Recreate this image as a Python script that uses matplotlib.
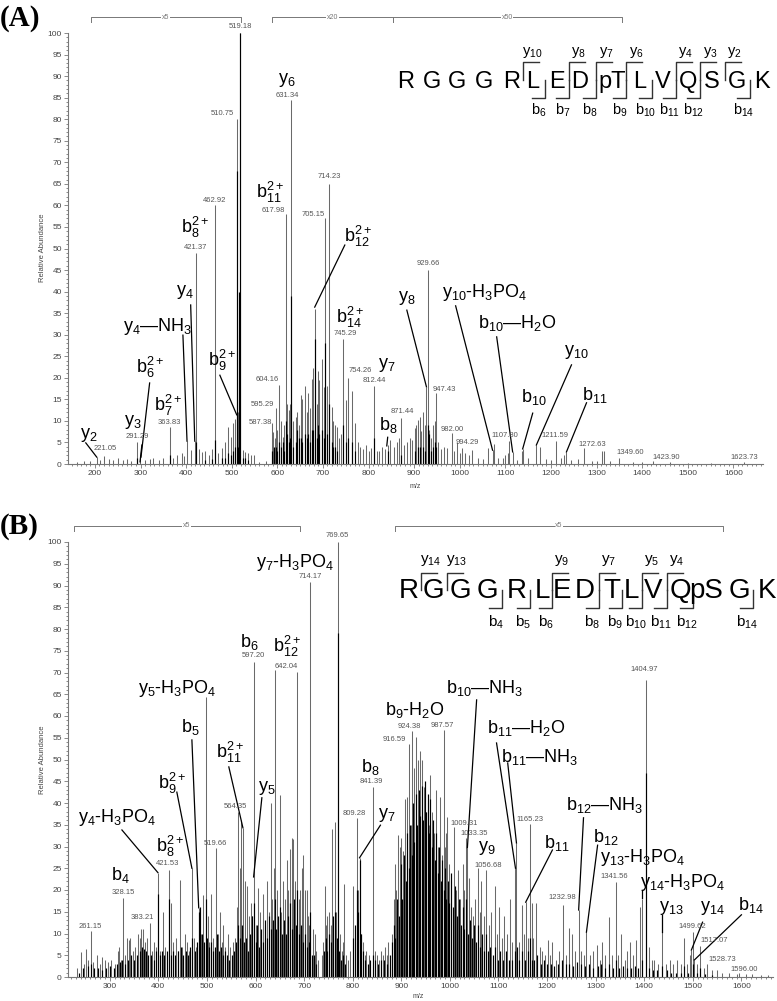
import numpy as np
import matplotlib.pyplot as plt
from matplotlib.ticker import MultipleLocator

plt.rcParams['font.family'] = ['Liberation Sans', 'DejaVu Sans']
plt.rcParams['mathtext.fontset'] = 'custom'
plt.rcParams['mathtext.rm'] = 'Liberation Sans'
plt.rcParams['mathtext.it'] = 'Liberation Sans:italic'
plt.rcParams['mathtext.default'] = 'regular'

# ---------- data: panel A (pT peptide) ----------
# (m/z, relative abundance), magnified trace (grey)
a_peaks = [
    (160, 0.5), (175, 0.6), (190, 0.8), (204, 1.6), (212, 0.9), (221, 1.9), (230, 1.2), (240, 1.0),
    (250, 1.3), (262, 0.9), (270, 1.1), (280, 0.8), (292, 5.1), (299, 2.0), (310, 1.0), (320, 1.2),
    (327, 1.5), (340, 1.0), (350, 1.3), (364, 8.6), (372, 1.5), (380, 2.0), (390, 2.5), (395, 1.8),
    (402, 5.3), (410, 3.2), (419, 5.3), (421, 49), (428, 3.5), (434, 2.8), (442, 3.0), (450, 2.2),
    (456, 3.5), (463, 60), (470, 2.5), (478, 3.8), (485, 5.0), (491, 8.6), (498, 6.3), (502, 9.5),
    (507, 10.5), (511, 80), (514, 12), (516, 30), (519, 100), (524, 3.3), (530, 2.8), (536, 2.5),
    (542, 2.0), (548, 2.0), (560, 0.5), (575, 0.8), (588, 9.5), (590, 7.5), (594, 6), (597, 13),
    (600, 8), (604, 18.3), (608, 10), (612, 6.3), (615, 9), (618, 58), (622, 14), (626, 12.5),
    (628, 14), (631, 84.5), (635, 10), (640, 11), (643, 12), (647, 9), (651, 16), (655, 15),
    (660, 18), (664, 12), (667, 16.5), (671, 13), (675, 19.7), (678, 22.3), (682, 36), (686, 14),
    (689, 21.6), (692, 19.5), (697, 24.3), (702, 17.9), (705, 57), (709, 18), (714, 65), (719, 13.2),
    (722, 10), (726, 9), (730, 8.6), (735, 6), (740, 7), (745, 29), (750, 14.8), (756, 20),
    (763, 17), (770, 9.5), (776, 5), (781, 4), (788, 3.5), (795, 4.5), (800, 3), (806, 3.8),
    (812, 18), (818, 3), (824, 3), (830, 4), (836, 3.5), (842, 4.5), (848, 5.5), (855, 4),
    (862, 5), (866, 6), (871, 10.7), (877, 4.5), (884, 5), (890, 6), (896, 5.5), (901, 8.4),
    (905, 9), (908, 10.2), (912, 11), (914, 7.7), (919, 12), (924, 9), (927, 17.9), (929.7, 45),
    (932, 7.9), (937, 6), (941, 9), (945, 10), (947, 16.5), (952, 5), (958, 3.5), (965, 4),
    (971, 3.8), (982, 7.2), (988, 3), (994, 5.1), (1000, 2.5), (1006, 3.8), (1012, 2.5), (1020, 2),
    (1026, 3.2), (1040, 1.5), (1050, 1.2), (1061, 3.6), (1072, 3.2), (1076, 4.7), (1085, 1.5),
    (1095, 1.5), (1100, 2), (1105, 2.5), (1108, 5.3), (1116, 2.8), (1125, 1), (1136, 3.0),
    (1138, 3.5), (1150, 1.5), (1168, 4.4), (1175, 4), (1190, 1.2), (1200, 1), (1212, 5.3),
    (1223, 1.5), (1228, 2), (1234, 2.8), (1245, 1), (1260, 1.2), (1273, 3.7), (1290, 0.8),
    (1300, 0.7), (1313, 3), (1317, 3), (1330, 0.6), (1350, 1.4), (1380, 0.5), (1400, 0.4),
    (1424, 0.8), (1460, 0.4), (1500, 0.3), (1550, 0.3), (1624, 0.5),
]
# unmagnified trace (black)
a_core = [
    (292, 1.5), (364, 2), (421, 5), (442, 1), (456, 1.2), (463, 5.5), (478, 1.5), (485, 1.5),
    (491, 2.5), (498, 2), (502, 3), (507, 4), (511, 68), (514, 4), (516, 40), (519, 100),
    (524, 1.3), (530, 1.5), (536, 1), (588, 3), (592, 4), (597, 4), (600, 3), (604, 5),
    (608, 4), (612, 5), (615, 3), (618, 10), (622, 7), (626, 5), (628, 6), (631, 39),
    (635, 4), (640, 5), (643, 8), (647, 6), (651, 6), (655, 5), (660, 7), (664, 6),
    (667, 7), (671, 5), (675, 8), (678, 8), (682, 29), (686, 6), (689, 9), (692, 7),
    (697, 8), (702, 6), (705, 28), (709, 7), (714, 14), (719, 5), (722, 4), (726, 4),
    (730, 3), (745, 9), (750, 5), (756, 6), (763, 5), (770, 3), (812, 6), (842, 3),
    (871, 2), (901, 3), (908, 4), (912, 4), (919, 4), (924, 3), (929.7, 9), (932, 7),
    (937, 3), (941, 4), (945, 5), (947, 4),
]
a_mz_labels = [
    ('519.18', 520, 101.4), ('510.75', 480, 81.4), ('631.34', 621, 85.6), ('714.23', 715, 66.6),
    ('705.15', 678, 58), ('617.98', 592, 58.9), ('462.92', 463, 61.2), ('421.37', 421, 50.3),
    ('929.66', 930, 46.6), ('947.43', 967, 17.4), ('745.29', 748, 30.2), ('754.26', 781, 21.6),
    ('812.44', 813, 19.3), ('871.44', 873, 12.2), ('982.00', 984, 7.9), ('994.29', 1017, 5.1),
    ('1107.80', 1100, 6.7), ('1211.59', 1208, 6.7), ('1272.63', 1291, 4.6), ('1349.60', 1374, 2.6),
    ('1423.90', 1453, 1.4), ('1623.73', 1624, 1.4), ('604.16', 579, 19.7), ('595.29', 568, 13.9),
    ('587.38', 562, 9.7), ('363.83', 364, 9.7), ('291.29', 292, 6.3), ('221.05', 222, 3.5),
]
# ion label, text position, leader line (from, to peak)
a_ions = [
    ('y$_2$', 187, 6.7, (180, 4.9, 204, 1.6)),
    ('y$_3$', 283, 9.7, (303, 4.4, 299, 0.5)),
    ('b$_6^{2+}$', 320, 22.3, (320, 18.8, 301, 1.6)),
    ('b$_7^{2+}$', 360, 13.7, None),
    ('y$_4$—NH$_3$', 338, 31.8, (393, 29.9, 402, 5.3)),
    ('y$_4$', 397, 39.9, (410, 36.9, 419, 5.3)),
    ('b$_8^{2+}$', 419, 54.8, None),
    ('b$_9^{2+}$', 478, 24.1, (474, 20.6, 511, 11.4)),
    ('y$_6$', 621, 89.1, None),
    ('b$_{11}^{2+}$', 583, 63.1, None),
    ('b$_{12}^{2+}$', 776, 52.7, (748, 50.8, 682, 36.4)),
    ('b$_{14}^{2+}$', 759, 34.1, None),
    ('y$_7$', 840, 23, None),
    ('b$_8$', 843, 9.0, (842, 6.2, 840, 4.2)),
    ('y$_8$', 884, 38.5, (884, 35.7, 927, 17.9)),
    ('y$_{10}$-H$_3$PO$_4$', 1054, 39.9, (991, 36.7, 1072, 3.2)),
    ('b$_{10}$—H$_2$O', 1127, 32.7, (1081, 29.5, 1116, 2.8)),
    ('y$_{10}$', 1256, 26, (1245, 23, 1168, 4.4)),
    ('b$_{10}$', 1162, 15.5, (1160, 11.8, 1138, 3.5)),
    ('b$_{11}$', 1296, 16, (1278, 14.2, 1234, 2.8)),
]
a_zoom = [(191, 520, 'x5'), (588, 853, 'x20'), (853, 1355, 'x50')]
a_residues = ['R', 'G', 'G', 'G', 'R', 'L', 'E', 'D', 'pT', 'L', 'V', 'Q', 'S', 'G', 'K']
a_y_ions = [10, 8, 7, 6, 4, 3, 2]
a_b_ions = [6, 7, 8, 9, 10, 11, 12, 14]

# ---------- data: panel B (pS peptide) ----------
b_peaks = [
    (232, 2), (240, 5.8), (246, 3), (251, 6.5), (256, 4), (261, 10.6), (266, 3.5), (273, 5),
    (280, 3), (285, 4.5), (290, 4), (296, 3.5), (302, 4), (310, 3), (316, 6), (319, 7),
    (323, 4), (327, 18.2), (331, 5), (336, 9), (340, 8.5), (342, 9), (348, 6), (352, 7),
    (358, 10), (362, 9), (365, 11), (368, 11), (372, 8), (376, 9), (382, 12.5), (387, 6),
    (392, 8), (395, 7), (399, 24), (404, 6), (409, 15), (414, 7), (421.5, 24.6), (427, 17),
    (431, 8), (436, 9), (440, 6), (444, 22.4), (449, 7), (454, 10), (458, 8), (463, 6),
    (469, 25), (474, 9), (478, 7), (483, 15.9), (487, 10), (491, 18.9), (497, 64.4), (502, 14),
    (505, 8), (509, 19), (513, 9), (518, 29.7), (522, 10), (526, 15), (530, 8), (534, 12),
    (538, 7), (543, 10), (548, 7), (553, 8), (558, 9), (561, 16), (563, 38), (567, 25),
    (571, 36), (574, 34.3), (578, 22), (582, 21), (586, 14), (590, 17), (593, 14), (596, 72.4),
    (600, 12), (605, 20.5), (610, 15), (615, 19), (619, 12), (623, 22), (627, 15), (631, 40),
    (634, 18), (637, 25), (641, 70.6), (645, 20), (650, 41.8), (653, 15), (656, 22), (660, 18),
    (664, 27), (667, 20), (670, 29.5), (674, 32), (677, 31.7), (681, 22), (685, 70.1), (689, 18),
    (692, 20), (695, 25), (697, 28), (701, 20), (705, 20), (707, 14), (710, 12), (713, 90.8),
    (718, 11), (722, 10), (724, 6), (728, 4), (736, 5), (739, 8), (742, 21), (745, 12),
    (748, 14), (752, 15), (755, 12), (758, 34), (763, 35.6), (766, 15), (769.65, 100), (773, 10),
    (777, 6), (780, 8), (783, 21.4), (787, 5), (790, 4), (795, 6), (800, 21), (804, 8),
    (808, 36.6), (811, 20), (814, 27.4), (818, 10), (821, 8), (825, 5), (828, 6), (834, 5),
    (841, 43.7), (845, 6), (849, 5), (854, 4), (858, 6), (862, 5), (866, 7), (870, 5),
    (873, 8), (876, 4), (880, 10), (884, 18), (886, 26), (889, 20), (893, 32.6), (897, 30),
    (900, 32), (903, 29), (907, 41), (911, 41.4), (915, 53.6), (919, 35), (923, 56.6), (927, 48),
    (931, 55.2), (934, 50), (938, 52), (942, 50), (946, 43.7), (950, 38), (954, 40), (957, 35),
    (960, 46.4), (964, 38), (968, 33), (972, 43), (976, 30), (979, 41.4), (983, 28), (987, 56.8),
    (990, 30), (993, 33), (995, 36.8), (999, 26), (1003, 22), (1008, 34.5), (1012, 20), (1016, 24.6),
    (1020, 18), (1026, 26), (1030, 20), (1034, 32), (1036, 29.7), (1040, 22.8), (1044, 16), (1048, 14),
    (1052, 18), (1057, 25), (1061, 15), (1065, 22), (1070, 14), (1075, 24.6), (1080, 12), (1085, 15),
    (1092, 20.9), (1096, 10), (1102, 16), (1107, 9), (1112, 14), (1118, 10), (1123, 18), (1128, 8),
    (1135, 25), (1137, 30.8), (1142, 8), (1149, 16.6), (1153, 10), (1156, 17.2), (1160, 9), (1164, 35.2),
    (1168, 17), (1172, 9), (1178, 17), (1185, 7), (1190, 6), (1196, 5), (1201, 8.6), (1206, 5),
    (1211, 8), (1218, 4), (1224, 6), (1232, 16.6), (1238, 5), (1246, 11.2), (1252, 10), (1258, 6),
    (1265, 15.4), (1270, 6), (1276, 5), (1281, 10.3), (1288, 5), (1295, 6), (1302, 7.3), (1308, 4),
    (1314, 8), (1320, 5), (1328, 13.8), (1334, 5), (1341, 21.8), (1347, 5), (1353, 10), (1360, 4),
    (1365, 6), (1370, 8), (1377, 5), (1384, 8.5), (1392, 16), (1396, 18), (1403, 68.3), (1409, 7),
    (1415, 4), (1421, 4), (1428, 3), (1437, 10.3), (1444, 3), (1452, 4), (1460, 3), (1468, 4),
    (1475, 3), (1481, 9), (1488, 3), (1494, 5), (1497, 6.2), (1499.6, 10.3), (1503, 3.9), (1508, 3),
    (1515, 7.1), (1522, 2), (1530, 3), (1540, 1.5), (1549, 1.5), (1560, 1), (1575, 1), (1590, 0.8),
    (1596, 1), (1610, 0.6), (1622, 0.8), (1640, 0.5), (1655, 0.5),
]
b_core = [
    (236, 1), (245, 2), (255, 2.5), (262, 3), (268, 2), (276, 2), (284, 1.5), (292, 2),
    (300, 2.5), (308, 2), (314, 3), (320, 3.5), (326, 4), (332, 3), (338, 4), (344, 5),
    (350, 4), (356, 5), (362, 6), (366, 7), (370, 6.5), (374, 6), (378, 5), (385, 5),
    (390, 4), (396, 6), (399, 19), (403, 5), (408, 6), (412, 5), (418, 6), (421.5, 18),
    (425, 5), (430, 6), (435, 5), (440, 6), (446, 7), (451, 5), (456, 6), (461, 5),
    (466, 7), (470, 9), (475, 6), (480, 8), (483, 15), (486, 16), (490, 10), (494, 8),
    (497, 18), (500, 9), (504, 7), (508, 8), (512, 6), (516, 7), (520, 10), (524, 6),
    (528, 7), (532, 5), (537, 6), (541, 5), (546, 4), (551, 5), (556, 6), (560, 8),
    (564, 12), (568, 9), (572, 12), (576, 8), (580, 9), (584, 6), (588, 10), (592, 14),
    (596, 17), (600, 8), (604, 12), (608, 7), (612, 11), (616, 8), (620, 13), (624, 9),
    (628, 14), (632, 11), (636, 13), (640, 18), (643, 11), (647, 14), (651, 16), (655, 10),
    (659, 13), (663, 10), (667, 14), (671, 17), (675, 11), (679, 18), (683, 12), (686, 20),
    (690, 10), (694, 12), (698, 8), (702, 10), (706, 7), (710, 8), (713, 15), (716, 5),
    (720, 5), (724, 3), (740, 6), (744, 9), (748, 6), (752, 10), (756, 8), (760, 14),
    (764, 15), (767, 9), (769.65, 79), (772, 6), (776, 4), (781, 5), (785, 3), (800, 9),
    (804, 12), (808, 20), (811, 15), (814, 27), (817, 10), (821, 6), (826, 4), (831, 3),
    (836, 4), (841, 5), (846, 4), (852, 3), (858, 4), (864, 4), (870, 3), (876, 5),
    (880, 8), (884, 12), (888, 9), (892, 18), (896, 14), (899, 26), (902, 18), (905, 28),
    (909, 22), (912, 33), (915, 25), (918, 35), (921, 28), (924, 40), (927, 31), (930, 42),
    (933, 35), (936, 43), (939, 37), (942, 44), (945, 36), (948, 45), (951, 38), (954, 42),
    (957, 33), (960, 41), (963, 30), (966, 36), (969, 27), (972, 33), (975, 24), (978, 30),
    (981, 22), (984, 27), (987, 20), (990, 25), (993, 18), (996, 22), (999, 17), (1002, 24),
    (1006, 16), (1010, 21), (1014, 14), (1018, 18), (1022, 12), (1026, 16), (1030, 11), (1034, 18),
    (1038, 10), (1042, 13), (1046, 9), (1050, 12), (1054, 8), (1058, 12), (1062, 7), (1066, 10),
    (1070, 6), (1074, 10), (1078, 6), (1083, 7), (1088, 5), (1093, 7), (1098, 4), (1104, 6),
    (1110, 4), (1116, 6), (1122, 4), (1128, 4), (1135, 6), (1138, 7), (1143, 4), (1149, 6),
    (1155, 4), (1160, 6), (1164, 9), (1168, 4), (1174, 4), (1180, 5), (1187, 3), (1194, 4),
    (1200, 3), (1208, 3), (1215, 2.5), (1222, 3), (1230, 4), (1238, 3), (1246, 3), (1254, 2.5),
    (1262, 3.5), (1270, 3), (1278, 2.5), (1286, 3), (1295, 2), (1304, 2.5), (1312, 3), (1320, 2),
    (1328, 3), (1336, 2), (1341, 4), (1348, 2), (1356, 2.5), (1364, 2), (1372, 2), (1380, 2.5),
    (1388, 2), (1396, 4), (1403, 47), (1410, 2), (1418, 1.5), (1426, 1.5), (1437, 2.5), (1446, 1.5),
    (1455, 1), (1465, 1), (1475, 1), (1481, 2.5), (1490, 1), (1499.6, 3), (1508, 1), (1515, 2),
    (1525, 0.8), (1540, 0.5),
]
b_mz_labels = [
    ('769.65', 769, 101.6), ('714.17', 713, 92), ('597.20', 596, 73.8), ('642.04', 664, 71.4),
    ('261.15', 259, 11.7), ('328.15', 327, 19.5), ('383.21', 366, 13.6), ('421.53', 419, 26),
    ('519.66', 518, 30.8), ('564.35', 559, 39.1), ('809.28', 804, 37.7), ('841.39', 839, 45),
    ('916.59', 886, 54.7), ('924.38', 917, 57.7), ('987.57', 985, 57.9), ('1009.31', 1030, 35.4),
    ('1033.35', 1051, 33.0), ('1056.68', 1078, 25.7), ('1165.23', 1164, 36.3), ('1232.98', 1232, 18.2),
    ('1341.56', 1339, 23), ('1404.97', 1400, 70.6), ('1499.62', 1499, 11.5), ('1517.07', 1544, 8.3),
    ('1528.73', 1561, 4.1), ('1596.00', 1606, 1.8),
]
b_ions = [
    ('y$_7$-H$_3$PO$_4$', 681, 95.4, None),
    ('b$_6$', 588, 77, None),
    ('b$_{12}^{2+}$', 664, 75.9, None),
    ('y$_5$-H$_3$PO$_4$', 438, 66.4, None),
    ('b$_5$', 465, 57.5, (469, 54.5, 483, 15.9)),
    ('b$_{11}^{2+}$', 547, 51.7, (545, 48.3, 574, 34.3)),
    ('b$_9^{2+}$', 428, 44.6, (438, 42.5, 469, 25)),
    ('y$_5$', 623, 43.5, (613, 41.2, 596, 23)),
    ('y$_4$-H$_3$PO$_4$', 316, 36.6, (325, 33.8, 399, 24)),
    ('b$_8^{2+}$', 423, 29.9, None),
    ('b$_4$', 321, 23.4, None),
    ('y$_7$', 870, 37.2, (857, 34.9, 814, 27.4)),
    ('b$_8$', 837, 48.3, None),
    ('b$_9$-H$_2$O', 927, 61.4, None),
    ('b$_{10}$—NH$_3$', 1071, 66.4, (1055, 63.7, 1036, 29.7)),
    ('b$_{11}$—H$_2$O', 1158, 57.2, (1096, 53.8, 1135, 25)),
    ('b$_{11}$—NH$_3$', 1185, 50.6, (1119, 49.2, 1137, 30.8)),
    ('y$_9$', 1077, 29.6, None),
    ('b$_{11}$', 1219, 30.8, (1211, 29.2, 1156, 17.2)),
    ('b$_{12}$—NH$_3$', 1318, 39.5, (1275, 36.6, 1265, 15.4)),
    ('b$_{12}$', 1320, 32.2, (1304, 30.3, 1281, 10.3)),
    ('y$_{13}$-H$_3$PO$_4$', 1396, 27.4, None),
    ('y$_{14}$-H$_3$PO$_4$', 1479, 21.8, (1396, 20, 1396, 18.2)),
    ('y$_{13}$', 1456, 15.9, (1437, 14.3, 1437, 10.3)),
    ('y$_{14}$', 1540, 15.9, (1520, 12.6, 1497, 6.2)),
    ('b$_{14}$', 1619, 16.6, (1600, 14.3, 1503, 3.9)),
]
b_zoom = [(226, 691, 'x5'), (886, 1563, 'x5')]
b_residues = ['R', 'G', 'G', 'G', 'R', 'L', 'E', 'D', 'T', 'L', 'V', 'Q', 'pS', 'G', 'K']
b_y_ions = [14, 13, 9, 7, 5, 4]
b_b_ions = [4, 5, 6, 8, 9, 10, 11, 12, 14]

W, H = 777, 1001
GREY = '#6a6a6a'
TXT = '#555555'


def fx(px):
    return px / W


def fy(py):
    return 1 - py / H


def draw_panel(ax, peaks, core, mz_labels, ions, zoom, xlim, ion_fs):
    p = np.array(peaks)
    c = np.array(core)
    ax.vlines(p[:, 0], 0, p[:, 1], color=GREY, lw=0.75)
    ax.vlines(c[:, 0], 0, c[:, 1], color='black', lw=0.85)
    ax.set_xlim(*xlim)
    ax.set_ylim(0, 100)
    for s in ['top', 'right']:
        ax.spines[s].set_visible(False)
    for s in ['left', 'bottom']:
        ax.spines[s].set_color('#777777')
        ax.spines[s].set_linewidth(0.8)
    ax.xaxis.set_major_locator(MultipleLocator(100))
    ax.xaxis.set_minor_locator(MultipleLocator(10))
    ax.yaxis.set_major_locator(MultipleLocator(5))
    ax.yaxis.set_minor_locator(MultipleLocator(1))
    ax.tick_params(which='both', colors='#777777', labelcolor='#444444',
                   labelsize=6, direction='out', width=0.6)
    ax.tick_params(which='major', length=3, pad=1.5)
    ax.tick_params(which='minor', length=1.5)

    for txt, x, y in mz_labels:
        ax.text(x, y, txt, fontsize=5.5, color=TXT, ha='center', va='center')
    for txt, x, y, line in ions:
        ax.text(x, y, txt, fontsize=ion_fs, color='black', ha='center', va='center')
        if line is not None:
            ax.plot([line[0], line[2]], [line[1], line[3]], color='black', lw=0.9)
    # magnification ranges above the plot
    for x0, x1, lab in zoom:
        ax.plot([x0, x0, x1, x1], [102.6, 103.7, 103.7, 102.6], color='#777777',
                lw=0.7, clip_on=False)
        ax.text((x0 + x1) / 2, 103.7, lab, fontsize=5, color='#777777', ha='center',
                va='center', bbox=dict(fc='white', ec='none', pad=0.5), clip_on=False)


def draw_sequence(fig, residues, xs, y_base, fs, y_ions, b_ions,
                  top, mid, bot, ylab_y, blab_y, ion_fs):
    for r, x in zip(residues, xs):
        fig.text(fx(x), fy(y_base), r, fontsize=fs, ha='center', va='baseline')
    n = len(residues)
    kw = dict(color='#333333', lw=1.0, transform=fig.transFigure)
    for k in y_ions:
        b = n - k
        bx = (xs[b - 1] + xs[b]) / 2
        fig.add_artist(plt.Line2D([fx(bx), fx(bx), fx(bx + 16)],
                                  [fy(mid), fy(top), fy(top)], **kw))
        fig.text(fx(bx + 10), fy(ylab_y), 'y$_{%d}$' % k, fontsize=ion_fs,
                 ha='center', va='center')
    for k in b_ions:
        bx = (xs[k - 1] + xs[k]) / 2
        fig.add_artist(plt.Line2D([fx(bx - 13), fx(bx), fx(bx)],
                                  [fy(bot), fy(bot), fy(mid)], **kw))
        fig.text(fx(bx - 6), fy(blab_y), 'b$_{%d}$' % k, fontsize=ion_fs,
                 ha='center', va='center')


fig = plt.figure(figsize=(7.77, 10.01), dpi=100)

axA = fig.add_axes([fx(68), fy(464), fx(763 - 68), (464 - 33) / H])
draw_panel(axA, a_peaks, a_core, a_mz_labels, a_ions, a_zoom, (141, 1665), 13)
axB = fig.add_axes([fx(68), fy(977), fx(773 - 68), (977 - 542) / H])
draw_panel(axB, b_peaks, b_core, b_mz_labels, b_ions, b_zoom, (214, 1665), 13)

draw_sequence(fig, a_residues,
              [406, 432, 457, 484, 512, 533, 557, 580, 612, 640, 663, 688, 712, 737, 762],
              88, 17, a_y_ions, a_b_ions, 62, 80, 98, 52, 110, 10.5)
draw_sequence(fig, b_residues,
              [409, 433, 460, 487, 517, 542, 562, 585, 612, 631, 653, 680, 706, 739, 767],
              598, 20, b_y_ions, b_b_ions, 573, 590, 608, 561, 622, 11)

for yc in [248, 760]:
    fig.text(fx(42), fy(yc), 'Relative Abundance', rotation=90, fontsize=5.5,
             color='#444444', ha='center', va='center')
fig.text(fx(415), fy(486), 'm/z', fontsize=5, color='#444444', ha='center', va='center')
fig.text(fx(418), fy(997), 'm/z', fontsize=5, color='#444444', ha='center', va='center')

fig.text(fx(0), fy(18), '(A)', fontsize=21, fontweight='bold', family='Liberation Serif',
         ha='left', va='center')
fig.text(fx(0), fy(527), '(B)', fontsize=21, fontweight='bold', family='Liberation Serif',
         ha='left', va='center')

fig.savefig('out.png', dpi=100)
